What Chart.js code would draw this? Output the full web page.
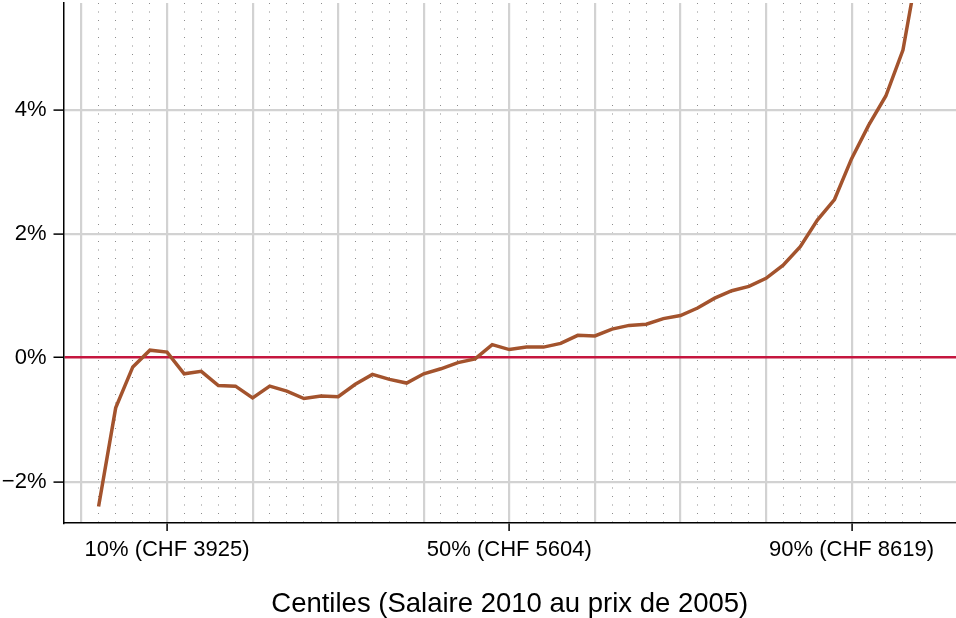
<!DOCTYPE html>
<html>
<head>
<meta charset="utf-8">
<script src="https://cdn.jsdelivr.net/npm/chart.js@4/dist/chart.umd.min.js"></script>
<style>
  html, body { margin: 0; padding: 0; background: #fff; }
  #wrap { width: 956px; height: 618px; }
</style>
</head>
<body>
<div id="wrap"><canvas id="chart" width="956" height="618"></canvas></div>
<script>
// Wage growth by centile, 2010 wages at 2005 prices
const centiles = [
  2, 4, 6, 8, 10, 12, 14, 16, 18, 20,
  22, 24, 26, 28, 30, 32, 34, 36, 38, 40,
  42, 44, 46, 48, 50, 52, 54, 56, 58, 60,
  62, 64, 66, 68, 70, 72, 74, 76, 78, 80,
  82, 84, 86, 88, 90, 92, 94, 96, 98,
];
const growth = [
  -2.40, -0.81, -0.15, 0.12, 0.09, -0.26, -0.22, -0.45, -0.46, -0.65,
  -0.46, -0.54, -0.66, -0.62, -0.63, -0.43, -0.27, -0.35, -0.41, -0.26,
  -0.18, -0.08, -0.02, 0.21, 0.13, 0.17, 0.17, 0.23, 0.36, 0.35,
  0.46, 0.52, 0.54, 0.63, 0.68, 0.80, 0.96, 1.08, 1.15, 1.28,
  1.49, 1.79, 2.22, 2.55, 3.21, 3.75, 4.22, 4.96, 6.50,
];
const labelCentiles = [10, 50, 90];
const labelTexts = ['10% (CHF 3925)', '50% (CHF 5604)', '90% (CHF 8619)'];
const majorLines = [0, 10, 20, 30, 40, 50, 60, 70, 80, 90];
const yTicks = [-2, 0, 2, 4];

const FONT = '"Liberation Sans", Arial, Helvetica, sans-serif';
const X_MIN = -2.1, X_MAX = 102.2;
const Y_MIN = -2.667, Y_MAX = 5.72;

const minorLines = centiles.filter(c => c % 10 !== 0);
const isLabelled = v => labelCentiles.includes(v);

// keep tick labels from pushing the plot area around
function noEdgePadding(s) {
  s.paddingTop = 0;
  s.paddingBottom = 0;
  s.paddingLeft = 0;
  s.paddingRight = 0;
}

function createChart() {
  const ctx = document.getElementById('chart').getContext('2d');
  return new Chart(ctx, {
    type: 'line',
    data: {
      datasets: [
        {
          data: centiles.map((c, i) => ({ x: c, y: growth[i] })),
          borderColor: '#a3532d',
          borderWidth: 3.5,
          pointRadius: 0,
          tension: 0,
        },
      ],
    },
    options: {
      responsive: false,
      animation: false,
      layout: { padding: { top: 3, left: 0, right: 0, bottom: 0 } },
      plugins: {
        legend: { display: false },
        tooltip: { enabled: false },
      },
      scales: {
        x: {
          type: 'linear',
          position: 'bottom',
          min: X_MIN,
          max: X_MAX,
          afterBuildTicks: s => { s.ticks = majorLines.map(v => ({ value: v })); },
          afterFit: s => { s.height = 95; noEdgePadding(s); },
          grid: {
            color: '#d2d2d2',
            lineWidth: 2.2,
            tickLength: 8,
            tickWidth: 1.5,
            tickColor: c => (c.tick && isLabelled(c.tick.value) ? '#000' : 'rgba(0,0,0,0)'),
          },
          border: { color: '#000', width: 1.5 },
          ticks: {
            autoSkip: false,
            maxRotation: 0,
            padding: 6,
            color: '#000',
            font: { family: FONT, size: 22 },
            callback: v => {
              const i = labelCentiles.indexOf(v);
              return i < 0 ? '' : labelTexts[i];
            },
          },
          title: {
            display: true,
            text: 'Centiles (Salaire 2010 au prix de 2005)',
            color: '#000',
            font: { family: FONT, size: 27.5 },
            padding: { top: 0, bottom: -3 },
          },
        },
        // dotted lines every 2 centiles
        xMinor: {
          type: 'linear',
          position: 'bottom',
          min: X_MIN,
          max: X_MAX,
          afterBuildTicks: s => { s.ticks = minorLines.map(v => ({ value: v })); },
          afterFit: s => { s.height = 0; noEdgePadding(s); },
          grid: { color: '#8c8c8c', lineWidth: 1, drawTicks: false },
          border: { display: false, dash: [1, 7.5] },
          ticks: { display: false },
        },
        y: {
          min: Y_MIN,
          max: Y_MAX,
          afterBuildTicks: s => { s.ticks = yTicks.map(v => ({ value: v })); },
          afterFit: s => { s.width = 63.5; noEdgePadding(s); },
          grid: {
            color: c => (c.tick && c.tick.value === 0 ? '#c5163f' : '#d2d2d2'),
            lineWidth: c => (c.tick && c.tick.value === 0 ? 2.5 : 2.2),
            tickLength: 10,
            tickWidth: 1.5,
            tickColor: '#000',
          },
          border: { color: '#000', width: 1.5 },
          ticks: {
            padding: 7,
            color: '#000',
            font: { family: FONT, size: 22 },
            callback: v => (v < 0 ? '\u2212' + Math.abs(v) : v) + '%',
          },
        },
      },
    },
  });
}

createChart();
</script>
</body>
</html>
